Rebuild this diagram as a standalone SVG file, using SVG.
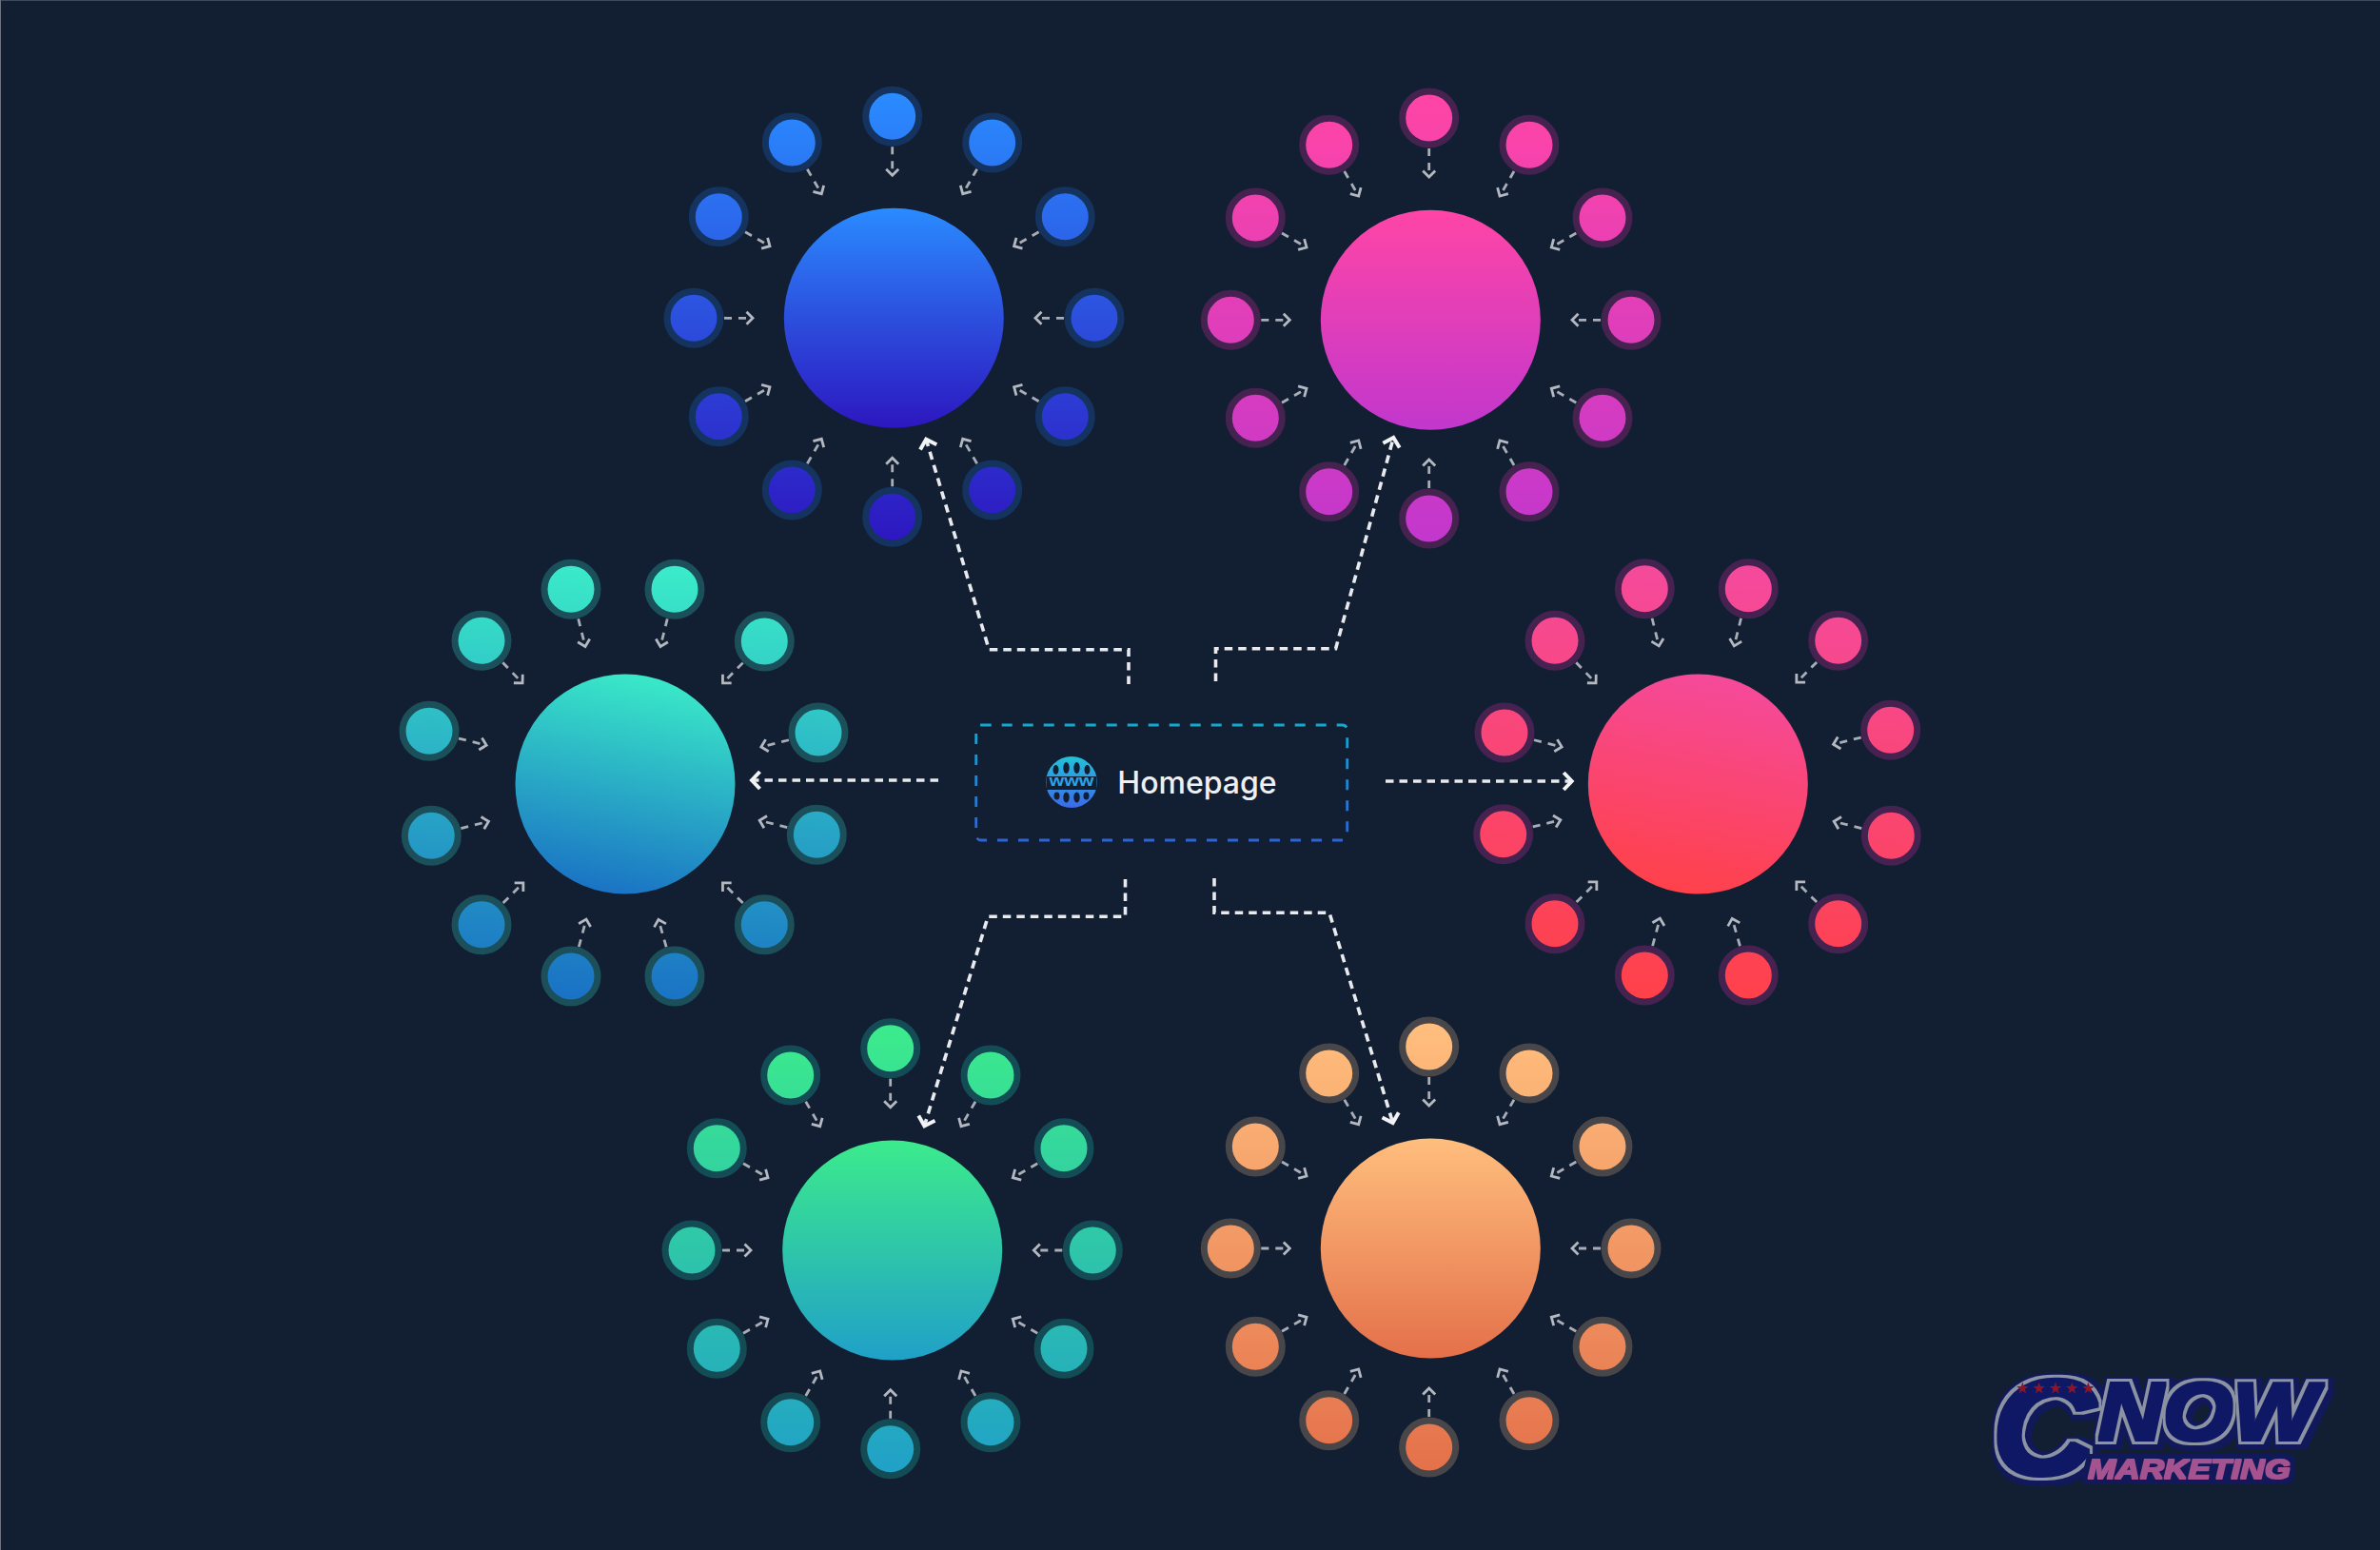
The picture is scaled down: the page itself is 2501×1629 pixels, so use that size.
<svg xmlns="http://www.w3.org/2000/svg" width="2501" height="1629" viewBox="0 0 2501 1629">
<defs>
<style>
.sm{fill:none;stroke:#a8adb6;stroke-width:2.8;stroke-dasharray:8 7;marker-end:url(#hs)}
.mn{fill:none;stroke:#e8eaee;stroke-width:3.6;stroke-dasharray:8.5 6;marker-end:url(#hm)}
.blue circle{stroke:#14335f}.mag circle{stroke:#45224f}.red circle{stroke:#45224f}.tea circle{stroke:#1b4f5a}.gre circle{stroke:#144c56}.ora circle{stroke:#484649}
circle.b{stroke:none!important}
</style>
<marker id="hs" markerUnits="userSpaceOnUse" markerWidth="14" markerHeight="20" refX="10" refY="10" orient="auto" overflow="visible"><path d="M3.5 3.5L10 10L3.5 16.5" fill="none" stroke="#b4b8c0" stroke-width="2.8"/></marker>
<marker id="hm" markerUnits="userSpaceOnUse" markerWidth="16" markerHeight="24" refX="12" refY="12" orient="auto" overflow="visible"><path d="M3.5 3L12 12L3.5 21" fill="none" stroke="#f2f3f5" stroke-width="4"/></marker>
<linearGradient id="gB" x1="0" y1="0" x2="0" y2="1"><stop offset="0" stop-color="#2a8bff"/><stop offset=".5" stop-color="#2c4fde"/><stop offset="1" stop-color="#2d17c0"/></linearGradient>
<linearGradient id="sB" gradientUnits="userSpaceOnUse" x1="0" y1="100" x2="0" y2="570"><stop offset="0" stop-color="#2a8bff"/><stop offset=".5" stop-color="#2c4fde"/><stop offset="1" stop-color="#2d17c0"/></linearGradient>
<linearGradient id="gM" x1="0" y1="0" x2="0" y2="1"><stop offset="0" stop-color="#ff45a6"/><stop offset="1" stop-color="#c237cd"/></linearGradient>
<linearGradient id="sM" gradientUnits="userSpaceOnUse" x1="0" y1="100" x2="0" y2="570"><stop offset="0" stop-color="#ff45a6"/><stop offset="1" stop-color="#c237cd"/></linearGradient>
<linearGradient id="gR" x1=".6" y1="0" x2=".4" y2="1"><stop offset="0" stop-color="#f54a9c"/><stop offset="1" stop-color="#ff4149"/></linearGradient>
<linearGradient id="sR" gradientUnits="userSpaceOnUse" x1="1800" y1="600" x2="1760" y2="1050"><stop offset="0" stop-color="#f54a9c"/><stop offset="1" stop-color="#ff4149"/></linearGradient>
<linearGradient id="gT" x1=".6" y1="0" x2=".4" y2="1"><stop offset="0" stop-color="#3aeac8"/><stop offset="1" stop-color="#1a72c4"/></linearGradient>
<linearGradient id="sT" gradientUnits="userSpaceOnUse" x1="670" y1="600" x2="640" y2="1050"><stop offset="0" stop-color="#3aeac8"/><stop offset="1" stop-color="#1a72c4"/></linearGradient>
<linearGradient id="gG" x1="0" y1="0" x2="0" y2="1"><stop offset="0" stop-color="#3ceb8c"/><stop offset="1" stop-color="#20a0c8"/></linearGradient>
<linearGradient id="sG" gradientUnits="userSpaceOnUse" x1="0" y1="1080" x2="0" y2="1550"><stop offset="0" stop-color="#3ceb8c"/><stop offset="1" stop-color="#20a0c8"/></linearGradient>
<linearGradient id="gO" x1="0" y1="0" x2="0" y2="1"><stop offset="0" stop-color="#ffbe7d"/><stop offset="1" stop-color="#e4704a"/></linearGradient>
<linearGradient id="sO" gradientUnits="userSpaceOnUse" x1="0" y1="1080" x2="0" y2="1550"><stop offset="0" stop-color="#ffbe7d"/><stop offset="1" stop-color="#e4704a"/></linearGradient>
<linearGradient id="gBox" gradientUnits="userSpaceOnUse" x1="0" y1="762" x2="0" y2="883"><stop offset="0" stop-color="#14a8cf"/><stop offset="1" stop-color="#2f63d4"/></linearGradient>
<linearGradient id="gIc" x1="0" y1="0" x2="0" y2="1"><stop offset="0" stop-color="#22c2d8"/><stop offset="1" stop-color="#3b69ea"/></linearGradient>
<filter id="lg" filterUnits="userSpaceOnUse" x="2060" y="1420" width="400" height="170" color-interpolation-filters="sRGB">
<feMorphology in="SourceAlpha" operator="dilate" radius="9" result="a"/><feOffset in="a" dx="2" dy="2" result="a2"/><feFlood flood-color="#11195a"/><feComposite in2="a2" operator="in" result="halo"/>
<feMorphology in="SourceAlpha" operator="dilate" radius="5" result="b"/><feFlood flood-color="#8b92a2"/><feComposite in2="b" operator="in" result="gray"/>
<feMorphology in="SourceAlpha" operator="dilate" radius="2" result="c"/><feFlood flood-color="#0f1864"/><feComposite in2="c" operator="in" result="navy"/>
<feMerge><feMergeNode in="halo"/><feMergeNode in="gray"/><feMergeNode in="navy"/></feMerge>
</filter>
<filter id="mk" filterUnits="userSpaceOnUse" x="2170" y="1515" width="260" height="60" color-interpolation-filters="sRGB">
<feMorphology in="SourceAlpha" operator="dilate" radius="6" result="a"/><feFlood flood-color="#11195a"/><feComposite in2="a" operator="in" result="halo"/>
<feMorphology in="SourceAlpha" operator="dilate" radius="1" result="b"/><feFlood flood-color="#a5538f"/><feComposite in2="b" operator="in" result="pk"/>
<feMerge><feMergeNode in="halo"/><feMergeNode in="pk"/></feMerge>
</filter>
</defs>
<rect width="2501" height="1629" fill="#121f33"/>
<rect width="2501" height="1" fill="#3f4a5c"/>
<rect width="1" height="1629" fill="#6c7482"/>

<g id="connectors">
<g id="main-connectors">
<path class="mn" d="M1186 719V682.7H1039.3L973.2 461.7"/>
<path class="mn" d="M1277.5 716V681.7H1403.6L1464.3 460"/>
<path class="mn" d="M1182.5 924V963.3H1038.2L971.4 1183.3"/>
<path class="mn" d="M1276 923V959.3H1397L1463.6 1180"/>
<path class="mn" d="M986 820H790"/>
<path class="mn" d="M1456 821H1651.7"/>
</g>
<g id="blue-connectors">
<path class="sm" transform="translate(937.7 122.3) rotate(90)" d="M32 0H62"/>
<path class="sm" transform="translate(832.3 150) rotate(60)" d="M32 0H62"/>
<path class="sm" transform="translate(1042.7 150) rotate(120)" d="M32 0H62"/>
<path class="sm" transform="translate(755.3 227.7) rotate(30)" d="M32 0H62"/>
<path class="sm" transform="translate(1119.3 227.7) rotate(150)" d="M32 0H62"/>
<path class="sm" transform="translate(729 334.3) rotate(0)" d="M32 0H62"/>
<path class="sm" transform="translate(1150 334.3) rotate(180)" d="M32 0H62"/>
<path class="sm" transform="translate(755.3 437.7) rotate(-30)" d="M32 0H62"/>
<path class="sm" transform="translate(1119.3 437.7) rotate(-150)" d="M32 0H62"/>
<path class="sm" transform="translate(832.3 515) rotate(-60)" d="M32 0H62"/>
<path class="sm" transform="translate(1042.7 515) rotate(-120)" d="M32 0H62"/>
<path class="sm" transform="translate(937.7 543.3) rotate(-90)" d="M32 0H62"/>
</g>
<g id="magenta-connectors">
<path class="sm" transform="translate(1501.7 124) rotate(90)" d="M32 0H62"/>
<path class="sm" transform="translate(1396.7 152.3) rotate(60)" d="M32 0H62"/>
<path class="sm" transform="translate(1607 152.3) rotate(120)" d="M32 0H62"/>
<path class="sm" transform="translate(1319.3 229) rotate(30)" d="M32 0H62"/>
<path class="sm" transform="translate(1684 229) rotate(150)" d="M32 0H62"/>
<path class="sm" transform="translate(1293.3 336.3) rotate(0)" d="M32 0H62"/>
<path class="sm" transform="translate(1714 336.3) rotate(180)" d="M32 0H62"/>
<path class="sm" transform="translate(1319.3 439.3) rotate(-30)" d="M32 0H62"/>
<path class="sm" transform="translate(1684 439.3) rotate(-150)" d="M32 0H62"/>
<path class="sm" transform="translate(1396.7 516.7) rotate(-60)" d="M32 0H62"/>
<path class="sm" transform="translate(1607 516.7) rotate(-120)" d="M32 0H62"/>
<path class="sm" transform="translate(1501.7 545) rotate(-90)" d="M32 0H62"/>
</g>
<g id="green-connectors">
<path class="sm" transform="translate(935.7 1101.7) rotate(90)" d="M32 0H62"/>
<path class="sm" transform="translate(830.7 1130) rotate(60)" d="M32 0H62"/>
<path class="sm" transform="translate(1041 1130) rotate(120)" d="M32 0H62"/>
<path class="sm" transform="translate(753.3 1206.7) rotate(30)" d="M32 0H62"/>
<path class="sm" transform="translate(1118 1206.7) rotate(150)" d="M32 0H62"/>
<path class="sm" transform="translate(727 1314) rotate(0)" d="M32 0H62"/>
<path class="sm" transform="translate(1148.3 1314) rotate(180)" d="M32 0H62"/>
<path class="sm" transform="translate(753.3 1417.3) rotate(-30)" d="M32 0H62"/>
<path class="sm" transform="translate(1118 1417.3) rotate(-150)" d="M32 0H62"/>
<path class="sm" transform="translate(830.7 1494.7) rotate(-60)" d="M32 0H62"/>
<path class="sm" transform="translate(1041 1494.7) rotate(-120)" d="M32 0H62"/>
<path class="sm" transform="translate(935.7 1522.7) rotate(-90)" d="M32 0H62"/>
</g>
<g id="orange-connectors">
<path class="sm" transform="translate(1501.7 1100) rotate(90)" d="M32 0H62"/>
<path class="sm" transform="translate(1396.7 1128) rotate(60)" d="M32 0H62"/>
<path class="sm" transform="translate(1607 1128) rotate(120)" d="M32 0H62"/>
<path class="sm" transform="translate(1319.3 1205) rotate(30)" d="M32 0H62"/>
<path class="sm" transform="translate(1684 1205) rotate(150)" d="M32 0H62"/>
<path class="sm" transform="translate(1293.3 1312) rotate(0)" d="M32 0H62"/>
<path class="sm" transform="translate(1714 1312) rotate(180)" d="M32 0H62"/>
<path class="sm" transform="translate(1319.3 1415.3) rotate(-30)" d="M32 0H62"/>
<path class="sm" transform="translate(1684 1415.3) rotate(-150)" d="M32 0H62"/>
<path class="sm" transform="translate(1396.7 1492.7) rotate(-60)" d="M32 0H62"/>
<path class="sm" transform="translate(1607 1492.7) rotate(-120)" d="M32 0H62"/>
<path class="sm" transform="translate(1501.7 1521) rotate(-90)" d="M32 0H62"/>
</g>
<g id="teal-connectors">
<path class="sm" transform="translate(600 619.3) rotate(76)" d="M32 0H62"/>
<path class="sm" transform="translate(709 619.3) rotate(104)" d="M32 0H62"/>
<path class="sm" transform="translate(506 673.3) rotate(46)" d="M32 0H62"/>
<path class="sm" transform="translate(803.3 674) rotate(135)" d="M32 0H62"/>
<path class="sm" transform="translate(451 768.3) rotate(14)" d="M32 0H62"/>
<path class="sm" transform="translate(860 770) rotate(166)" d="M32 0H62"/>
<path class="sm" transform="translate(453.3 878.3) rotate(-14)" d="M32 0H62"/>
<path class="sm" transform="translate(858.3 877.3) rotate(-166)" d="M32 0H62"/>
<path class="sm" transform="translate(506 971.7) rotate(-45)" d="M32 0H62"/>
<path class="sm" transform="translate(803.3 971.7) rotate(-135)" d="M32 0H62"/>
<path class="sm" transform="translate(600 1026) rotate(-75)" d="M32 0H62"/>
<path class="sm" transform="translate(709 1026) rotate(-106)" d="M32 0H62"/>
</g>
<g id="red-connectors">
<path class="sm" transform="translate(1728.3 618.7) rotate(76)" d="M32 0H62"/>
<path class="sm" transform="translate(1837.3 618.7) rotate(104)" d="M32 0H62"/>
<path class="sm" transform="translate(1634 673.3) rotate(46)" d="M32 0H62"/>
<path class="sm" transform="translate(1931.7 673.3) rotate(135)" d="M32 0H62"/>
<path class="sm" transform="translate(1581 770) rotate(14)" d="M32 0H62"/>
<path class="sm" transform="translate(1986.7 767.3) rotate(166)" d="M32 0H62"/>
<path class="sm" transform="translate(1579.7 876.7) rotate(-14)" d="M32 0H62"/>
<path class="sm" transform="translate(1987.3 878.3) rotate(-166)" d="M32 0H62"/>
<path class="sm" transform="translate(1634 970.7) rotate(-45)" d="M32 0H62"/>
<path class="sm" transform="translate(1931.7 970.7) rotate(-135)" d="M32 0H62"/>
<path class="sm" transform="translate(1728.3 1025) rotate(-75)" d="M32 0H62"/>
<path class="sm" transform="translate(1837.3 1025) rotate(-106)" d="M32 0H62"/>
</g>
</g>

<g id="cluster-blue" class="blue">
<circle class="b" cx="939.3" cy="334.3" r="115.5" fill="url(#gB)"/>
<g fill="url(#sB)" stroke-width="7">
<circle cx="937.7" cy="122.3" r="28"/><circle cx="832.3" cy="150" r="28"/><circle cx="1042.7" cy="150" r="28"/><circle cx="755.3" cy="227.7" r="28"/><circle cx="1119.3" cy="227.7" r="28"/><circle cx="729" cy="334.3" r="28"/><circle cx="1150" cy="334.3" r="28"/><circle cx="755.3" cy="437.7" r="28"/><circle cx="1119.3" cy="437.7" r="28"/><circle cx="832.3" cy="515" r="28"/><circle cx="1042.7" cy="515" r="28"/><circle cx="937.7" cy="543.3" r="28"/>
</g></g>
<g id="cluster-magenta" class="mag">
<circle class="b" cx="1503.3" cy="336.3" r="115.5" fill="url(#gM)"/>
<g fill="url(#sM)" stroke-width="7">
<circle cx="1501.7" cy="124" r="28"/><circle cx="1396.7" cy="152.3" r="28"/><circle cx="1607" cy="152.3" r="28"/><circle cx="1319.3" cy="229" r="28"/><circle cx="1684" cy="229" r="28"/><circle cx="1293.3" cy="336.3" r="28"/><circle cx="1714" cy="336.3" r="28"/><circle cx="1319.3" cy="439.3" r="28"/><circle cx="1684" cy="439.3" r="28"/><circle cx="1396.7" cy="516.7" r="28"/><circle cx="1607" cy="516.7" r="28"/><circle cx="1501.7" cy="545" r="28"/>
</g></g>
<g id="cluster-teal" class="tea">
<circle class="b" cx="657" cy="824" r="115.5" fill="url(#gT)"/>
<g fill="url(#sT)" stroke-width="7">
<circle cx="600" cy="619.3" r="28"/><circle cx="709" cy="619.3" r="28"/><circle cx="506" cy="673.3" r="28"/><circle cx="803.3" cy="674" r="28"/><circle cx="451" cy="768.3" r="28"/><circle cx="860" cy="770" r="28"/><circle cx="453.3" cy="878.3" r="28"/><circle cx="858.3" cy="877.3" r="28"/><circle cx="506" cy="971.7" r="28"/><circle cx="803.3" cy="971.7" r="28"/><circle cx="600" cy="1026" r="28"/><circle cx="709" cy="1026" r="28"/>
</g></g>
<g id="cluster-red" class="red">
<circle class="b" cx="1784.3" cy="824" r="115.5" fill="url(#gR)"/>
<g fill="url(#sR)" stroke-width="7">
<circle cx="1728.3" cy="618.7" r="28"/><circle cx="1837.3" cy="618.7" r="28"/><circle cx="1634" cy="673.3" r="28"/><circle cx="1931.7" cy="673.3" r="28"/><circle cx="1581" cy="770" r="28"/><circle cx="1986.7" cy="767.3" r="28"/><circle cx="1579.7" cy="876.7" r="28"/><circle cx="1987.3" cy="878.3" r="28"/><circle cx="1634" cy="970.7" r="28"/><circle cx="1931.7" cy="970.7" r="28"/><circle cx="1728.3" cy="1025" r="28"/><circle cx="1837.3" cy="1025" r="28"/>
</g></g>
<g id="cluster-green" class="gre">
<circle class="b" cx="937.7" cy="1314" r="115.5" fill="url(#gG)"/>
<g fill="url(#sG)" stroke-width="7">
<circle cx="935.7" cy="1101.7" r="28"/><circle cx="830.7" cy="1130" r="28"/><circle cx="1041" cy="1130" r="28"/><circle cx="753.3" cy="1206.7" r="28"/><circle cx="1118" cy="1206.7" r="28"/><circle cx="727" cy="1314" r="28"/><circle cx="1148.3" cy="1314" r="28"/><circle cx="753.3" cy="1417.3" r="28"/><circle cx="1118" cy="1417.3" r="28"/><circle cx="830.7" cy="1494.7" r="28"/><circle cx="1041" cy="1494.7" r="28"/><circle cx="935.7" cy="1522.7" r="28"/>
</g></g>
<g id="cluster-orange" class="ora">
<circle class="b" cx="1503.3" cy="1312" r="115.5" fill="url(#gO)"/>
<g fill="url(#sO)" stroke-width="7">
<circle cx="1501.7" cy="1100" r="28"/><circle cx="1396.7" cy="1128" r="28"/><circle cx="1607" cy="1128" r="28"/><circle cx="1319.3" cy="1205" r="28"/><circle cx="1684" cy="1205" r="28"/><circle cx="1293.3" cy="1312" r="28"/><circle cx="1714" cy="1312" r="28"/><circle cx="1319.3" cy="1415.3" r="28"/><circle cx="1684" cy="1415.3" r="28"/><circle cx="1396.7" cy="1492.7" r="28"/><circle cx="1607" cy="1492.7" r="28"/><circle cx="1501.7" cy="1521" r="28"/>
</g></g>

<g id="homepage">
<rect x="1025.7" y="762" width="390" height="121" rx="5" fill="none" stroke="url(#gBox)" stroke-width="2.8" stroke-dasharray="11 11"/>
<g id="globe">
<circle cx="1126" cy="822" r="27" fill="url(#gIc)"/>
<g fill="#121f33">
<ellipse cx="1109.5" cy="809" rx="3" ry="5"/><ellipse cx="1120.5" cy="807" rx="3.2" ry="6"/><ellipse cx="1131.5" cy="807" rx="3.2" ry="6"/><ellipse cx="1142.5" cy="809" rx="3" ry="5"/>
<ellipse cx="1110.5" cy="836.5" rx="3" ry="4"/><ellipse cx="1120.5" cy="838" rx="3.2" ry="5.5"/><ellipse cx="1131.5" cy="838" rx="3.2" ry="5.5"/><ellipse cx="1141.5" cy="836.5" rx="3" ry="4"/>
<rect x="1099.5" y="816" width="53" height="14"/>
</g>
<text x="1126" y="826" font-family="Liberation Sans, sans-serif" font-weight="700" font-size="16" fill="#2aa3e8" text-anchor="middle" textLength="47" lengthAdjust="spacingAndGlyphs">www</text>
</g>
<text x="1174.3" y="834" font-family="Inter, sans-serif" font-weight="500" font-size="32" fill="#eef0f3">Homepage</text>
</g>

<g id="logo">
<g filter="url(#lg)" font-family="Liberation Sans, sans-serif" font-weight="700" font-style="italic" fill="#000">
<text x="2093" y="1550" font-size="142" textLength="109" lengthAdjust="spacingAndGlyphs">C</text>
<text x="2205" y="1513" font-size="85" textLength="230" lengthAdjust="spacingAndGlyphs">NOW</text>
</g>
<text filter="url(#mk)" x="2194" y="1554" font-family="Liberation Sans, sans-serif" font-weight="700" font-style="italic" font-size="29" textLength="213" lengthAdjust="spacingAndGlyphs">MARKETING</text>
<g fill="#8e1528">
<polygon points="2125.4,1452.5 2127,1457 2131.6,1457 2127.9,1459.9 2129.2,1464.4 2125.4,1461.7 2121.6,1464.4 2122.9,1459.9 2119.2,1457 2123.8,1457"/>
<polygon points="2142.7,1452.5 2144.3,1457 2148.9,1457 2145.2,1459.9 2146.5,1464.4 2142.7,1461.7 2138.9,1464.4 2140.2,1459.9 2136.5,1457 2141.1,1457"/>
<polygon points="2160,1452.5 2161.6,1457 2166.2,1457 2162.5,1459.9 2163.8,1464.4 2160,1461.7 2156.2,1464.4 2157.5,1459.9 2153.8,1457 2158.4,1457"/>
<polygon points="2177.3,1452.5 2178.9,1457 2183.5,1457 2179.8,1459.9 2181.1,1464.4 2177.3,1461.7 2173.5,1464.4 2174.8,1459.9 2171.1,1457 2175.7,1457"/>
<polygon points="2194.4,1452.5 2196,1457 2200.6,1457 2196.9,1459.9 2198.2,1464.4 2194.4,1461.7 2190.6,1464.4 2191.9,1459.9 2188.2,1457 2192.8,1457"/>
</g>
</g>
</svg>
